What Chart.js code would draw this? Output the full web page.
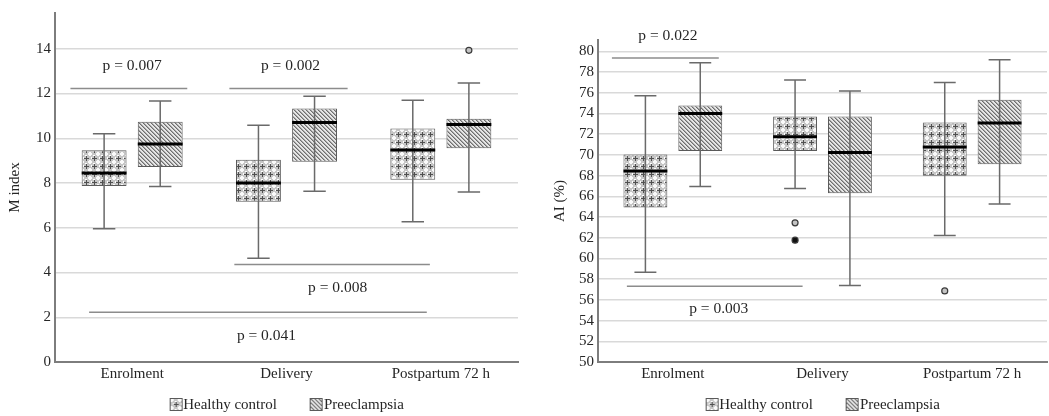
<!DOCTYPE html>
<html><head><meta charset="utf-8">
<script src="https://cdn.jsdelivr.net/npm/chart.js@4/dist/chart.umd.min.js"></script>
<style>
html,body{margin:0;padding:0;background:#fff;}
#wrap{position:relative;width:1049px;height:416px;overflow:hidden;}
#c1box{position:absolute;left:0;top:0;width:525px;height:416px;}
#c2box{position:absolute;left:525px;top:0;width:524px;height:416px;}
.legend{position:absolute;top:395px;transform:translateX(-50%);white-space:nowrap;display:flex;align-items:center;
  font-family:"Liberation Serif","Times New Roman","DejaVu Serif",serif;font-size:15px;color:#262626;line-height:18px;}
.legend .item{display:flex;align-items:center;}
.legend .item + .item{margin-left:33px;}
.legend canvas{width:13px;height:13px;margin-right:1px;}
</style></head><body>
<div id="wrap">
  <div id="c1box"><canvas id="c1"></canvas></div>
  <div id="c2box"><canvas id="c2"></canvas></div>
  <div class="legend" id="lg1"></div>
  <div class="legend" id="lg2"></div>
</div>
<script>
// ---------- data ----------
const categories = ['Enrolment', 'Delivery', 'Postpartum 72 h'];
const seriesNames = ['Healthy control', 'Preeclampsia'];

// M index: [min, q1, median, q3, max] per category
const mHealthy      = [[5.96, 7.87, 8.45, 9.46, 10.2], [4.64, 7.16, 8.0, 9.04, 10.58], [6.27, 8.15, 9.48, 10.44, 11.7]];
const mPreeclampsia = [[7.85, 8.72, 9.75, 10.74, 11.67], [7.63, 8.95, 10.71, 11.33, 11.88], [7.6, 9.56, 10.62, 10.87, 12.47]];
// outliers: [categoryIndex, value, filled]
const mOutHealthy      = [];
const mOutPreeclampsia = [[2, 13.93, false]];
const mTickValues = [0, 2, 4, 6, 8, 10, 12, 14];
const mAxisMax = 15.6;
// significance: [fromCategory, toCategory, value, label, textCategory, textValue]
const mSignif = [
  [-0.40, 0.357, 12.22, 'p = 0.007', 0.0, 13.24],
  [0.63, 1.396, 12.22, 'p = 0.002', 1.026, 13.24],
  [0.662, 1.929, 4.36, 'p = 0.008', 1.331, 3.29],
  [-0.279, 1.909, 2.22, 'p = 0.041', 0.870, 1.16]
];

// AI (%): [min, q1, median, q3, max]
const aHealthy      = [[58.67, 64.92, 68.44, 70.04, 75.72], [66.75, 70.37, 71.75, 73.72, 77.23], [62.21, 67.98, 70.76, 73.14, 77.0]];
const aPreeclampsia = [[66.95, 70.37, 74.0, 74.78, 78.9], [57.38, 66.31, 70.24, 73.72, 76.17], [65.27, 69.11, 73.08, 75.33, 79.2]];
const aOutHealthy      = [[1, 63.44, false], [1, 61.77, true], [2, 56.86, false]];
const aOutPreeclampsia = [];
const aTickValues = [50, 52, 54, 56, 58, 60, 62, 64, 66, 68, 70, 72, 74, 76, 78, 80];
const aAxisMin = 50, aAxisMax = 81.1;
const aSignif = [
  [-0.407, 0.307, 79.36, 'p = 0.022', -0.033, 81.52],
  [-0.307, 0.867, 57.32, 'p = 0.003', 0.307, 55.12]
];

// ---------- styling ----------
const FONT = '"Liberation Serif", "Times New Roman", "DejaVu Serif", serif';
const TXT = '#262626';

function hcTile() {
  const t = document.createElement('canvas'); t.width = 8; t.height = 8;
  const g = t.getContext('2d');
  g.fillStyle = '#c6c6c6'; g.fillRect(0, 0, 8, 8);
  g.fillStyle = '#fafafa';
  g.fillRect(1, 0, 2, 4); g.fillRect(0, 1, 4, 2);
  g.fillStyle = '#ffffff';
  g.fillRect(5, 3, 2, 1); g.fillRect(3, 5, 1, 2);
  g.fillStyle = '#505050';
  g.fillRect(6, 4, 1, 5); g.fillRect(4, 6, 5, 1);
  g.fillRect(6, 0, 1, 1); g.fillRect(0, 6, 1, 1);
  return t;
}
function peTile() {
  const t = document.createElement('canvas'); t.width = 4; t.height = 4;
  const g = t.getContext('2d');
  g.fillStyle = '#e6e6e6'; g.fillRect(0, 0, 4, 4);
  for (let i = 0; i < 4; i++) {
    g.fillStyle = '#6e6e6e'; g.fillRect(i, i, 1, 1);
    g.fillStyle = '#a8a8a8'; g.fillRect((i + 1) % 4, i, 1, 1);
  }
  return t;
}
const tiles = [hcTile(), peTile()];
const patterns = tiles.map(t => document.createElement('canvas').getContext('2d').createPattern(t, 'repeat'));

const boxExtras = {
  id: 'boxExtras',
  afterDatasetsDraw(chart, args, opts) {
    const ctx = chart.ctx, x = chart.scales.x, y = chart.scales.y;
    ctx.save();
    opts.stats.forEach((arr, di) => {
      const meta = chart.getDatasetMeta(di);
      arr.forEach((s, i) => {
        const bar = meta.data[i];
        const cx = bar.x, w = bar.width;
        const pMin = y.getPixelForValue(s[0]), pMed = y.getPixelForValue(s[2]), pMax = y.getPixelForValue(s[4]);
        ctx.strokeStyle = '#6a6a6a'; ctx.lineWidth = 1.5;
        ctx.beginPath();
        ctx.moveTo(cx, pMin); ctx.lineTo(cx, pMax);
        ctx.moveTo(cx - w / 4, pMin); ctx.lineTo(cx + w / 4, pMin);
        ctx.moveTo(cx - w / 4, pMax); ctx.lineTo(cx + w / 4, pMax);
        ctx.stroke();
        ctx.strokeStyle = '#000'; ctx.lineWidth = 3;
        ctx.beginPath(); ctx.moveTo(cx - w / 2, pMed); ctx.lineTo(cx + w / 2, pMed); ctx.stroke();
      });
      opts.outliers[di].forEach(o => {
        const bar = meta.data[o[0]];
        const py = y.getPixelForValue(o[1]);
        ctx.beginPath(); ctx.arc(bar.x, py, 3, 0, Math.PI * 2);
        ctx.fillStyle = o[2] ? '#111' : '#c4c4c4'; ctx.fill();
        ctx.lineWidth = 1.2; ctx.strokeStyle = '#3a3a3a'; ctx.stroke();
      });
    });
    ctx.font = '15.5px ' + FONT; ctx.fillStyle = TXT; ctx.textAlign = 'center'; ctx.textBaseline = 'middle';
    opts.signif.forEach(sg => {
      const py = y.getPixelForValue(sg[2]);
      ctx.strokeStyle = '#8c8c8c'; ctx.lineWidth = 1.5;
      ctx.beginPath(); ctx.moveTo(x.getPixelForValue(sg[0]), py); ctx.lineTo(x.getPixelForValue(sg[1]), py); ctx.stroke();
      ctx.fillText(sg[3], x.getPixelForValue(sg[4]), y.getPixelForValue(sg[5]));
    });
    ctx.restore();
  }
};

function makeChart(id, hc, pe, outHc, outPe, signif, ticks, yMin, yMax, title, cfg) {
  const toRange = a => a.map(s => [s[1], s[3]]);
  return new Chart(document.getElementById(id), {
    type: 'bar',
    data: {
      labels: categories,
      datasets: [
        { label: seriesNames[0], data: toRange(hc), backgroundColor: patterns[0], borderColor: '#5a5a5a', borderWidth: 1, borderSkipped: false,
          categoryPercentage: cfg.catPct, barPercentage: 0.8 },
        { label: seriesNames[1], data: toRange(pe), backgroundColor: patterns[1], borderColor: '#5a5a5a', borderWidth: 1, borderSkipped: false,
          categoryPercentage: cfg.catPct, barPercentage: 0.8 }
      ]
    },
    options: {
      responsive: true, maintainAspectRatio: false, animation: false,
      layout: { padding: cfg.padding },
      scales: {
        x: {
          grid: { display: false, drawTicks: false },
          border: { display: true, color: '#7d7d7d', width: 2 },
          ticks: { color: TXT, font: { family: FONT, size: 15 }, padding: 3 },
          afterFit: s => { s.height = cfg.xHeight; }
        },
        y: {
          min: yMin, max: yMax,
          afterBuildTicks: s => { s.ticks = ticks.map(v => ({ value: v })); },
          grid: { color: '#d9d9d9', lineWidth: 1.5, drawTicks: false },
          border: { display: true, color: '#7d7d7d', width: 2 },
          ticks: { color: TXT, font: { family: FONT, size: 15 }, padding: 4 },
          title: { display: true, text: title, color: TXT, font: { family: FONT, size: 15 }, padding: { top: cfg.titlePad, bottom: 0 } },
          afterFit: s => { s.width = cfg.yWidth; }
        }
      },
      plugins: {
        legend: { display: false },
        tooltip: { enabled: false },
        boxExtras: { stats: [hc, pe], outliers: [outHc, outPe], signif: signif }
      }
    },
    plugins: [boxExtras]
  });
}

function buildLegend(divId, chart, offsetLeft) {
  const div = document.getElementById(divId);
  seriesNames.forEach((name, i) => {
    const item = document.createElement('span'); item.className = 'item';
    const sw = document.createElement('canvas'); sw.width = 13; sw.height = 13;
    const g = sw.getContext('2d');
    g.fillStyle = g.createPattern(tiles[i], 'repeat'); g.fillRect(0, 0, 13, 13);
    g.strokeStyle = '#5a5a5a'; g.lineWidth = 1; g.strokeRect(0.5, 0.5, 12, 12);
    const tx = document.createElement('span'); tx.textContent = name;
    item.appendChild(sw); item.appendChild(tx); div.appendChild(item);
  });
  const ca = chart.chartArea;
  div.style.left = (offsetLeft + (ca.left + ca.right) / 2) + 'px';
}

const ch1 = makeChart('c1', mHealthy, mPreeclampsia, mOutHealthy, mOutPreeclampsia, mSignif, mTickValues, 0, mAxisMax, 'M index',
  { catPct: 0.727, padding: { left: 0, top: 9, right: 7, bottom: 30 }, xHeight: 24, yWidth: 55, titlePad: 6 });
const ch2 = makeChart('c2', aHealthy, aPreeclampsia, aOutHealthy, aOutPreeclampsia, aSignif, aTickValues, aAxisMin, aAxisMax, 'AI (%)',
  { catPct: 0.733, padding: { left: 0, top: 40, right: 2, bottom: 30 }, xHeight: 24, yWidth: 73, titlePad: 26 });
buildLegend('lg1', ch1, 0);
buildLegend('lg2', ch2, 525);
</script>
</body></html>
